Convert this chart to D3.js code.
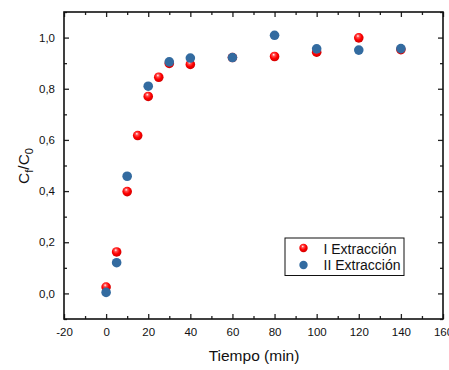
<!DOCTYPE html>
<html><head><meta charset="utf-8">
<script src="https://cdn.jsdelivr.net/npm/d3@7"></script>
<style>body{margin:0;background:#fff}svg{display:block;font-family:"Liberation Sans",Arial,sans-serif}</style>
</head><body><svg id="c" width="449" height="370"></svg>
<script>
const seriesNames = ["I Extracción", "II Extracción"];
const timeI = [0, 5, 10, 15, 20, 25, 30, 40, 60, 80, 100, 120, 140];
const valuesI = [0.025, 0.162, 0.398, 0.617, 0.770, 0.845, 0.899, 0.895, 0.922, 0.926, 0.943, 0.999, 0.953];
const timeII = [0, 5, 10, 20, 30, 40, 60, 80, 100, 120, 140];
const valuesII = [0.004, 0.120, 0.458, 0.810, 0.905, 0.920, 0.922, 1.009, 0.956, 0.951, 0.957];
const xTicks = [-20, 0, 20, 40, 60, 80, 100, 120, 140, 160];
const yTicks = [0.0, 0.2, 0.4, 0.6, 0.8, 1.0];
const xMinorTicks = [-10, 10, 30, 50, 70, 90, 110, 130, 150];
const yMinorTicks = [-0.1, 0.1, 0.3, 0.5, 0.7, 0.9, 1.1];

const svg = d3.select("#c");
const L = 64, R = 443, T = 12, B = 319;
const x = d3.scaleLinear().domain([-20, 160]).range([L, R]);
const y = d3.scaleLinear().domain([-0.1, 1.1]).range([B, T]);
const fmt = d => d3.format(".1f")(d).replace(".", ",");

const defs = svg.append("defs");
const g = defs.append("radialGradient").attr("id", "rg").attr("cx", "0.45").attr("cy", "0.4").attr("r", "0.6").attr("fx", "0.4").attr("fy", "0.3");
g.append("stop").attr("offset", "0").attr("stop-color", "#ffffff");
g.append("stop").attr("offset", "0.25").attr("stop-color", "#ff5050");
g.append("stop").attr("offset", "0.6").attr("stop-color", "#ff0000");
g.append("stop").attr("offset", "1").attr("stop-color", "#d00000");

// major ticks (inward, mirrored)
svg.append("g").attr("transform", `translate(0,${B})`)
  .call(d3.axisBottom(x).tickValues(xTicks).tickSize(-5).tickPadding(9).tickFormat(d => d));
svg.append("g").attr("transform", `translate(0,${T})`)
  .call(d3.axisTop(x).tickValues(xTicks).tickSize(-5).tickFormat(""));
svg.append("g").attr("transform", `translate(${L},0)`)
  .call(d3.axisLeft(y).tickValues(yTicks).tickSize(-5).tickPadding(9).tickFormat(fmt));
svg.append("g").attr("transform", `translate(${R},0)`)
  .call(d3.axisRight(y).tickValues(yTicks).tickSize(-5).tickFormat(""));
// minor ticks
svg.append("g").attr("transform", `translate(0,${B})`).call(d3.axisBottom(x).tickValues(xMinorTicks).tickSize(-3).tickFormat(""));
svg.append("g").attr("transform", `translate(0,${T})`).call(d3.axisTop(x).tickValues(xMinorTicks).tickSize(-3).tickFormat(""));
svg.append("g").attr("transform", `translate(${L},0)`).call(d3.axisLeft(y).tickValues(yMinorTicks).tickSize(-3).tickFormat(""));
svg.append("g").attr("transform", `translate(${R},0)`).call(d3.axisRight(y).tickValues(yMinorTicks).tickSize(-3).tickFormat(""));

svg.selectAll(".domain").remove();
svg.selectAll(".tick line").attr("stroke", "#222").attr("stroke-width", 1.3);
svg.selectAll(".tick text").attr("font-size", 11.5).attr("fill", "#111").attr("font-family", '"Liberation Sans",Arial,sans-serif');
svg.append("rect").attr("x", L).attr("y", T).attr("width", R - L).attr("height", B - T)
  .attr("fill", "none").attr("stroke", "#111").attr("stroke-width", 1.6);

// data (series II drawn on top, as in reference)
svg.append("g").selectAll("circle").data(timeI.map((t, i) => [t, valuesI[i]])).join("circle")
  .attr("cx", d => x(d[0])).attr("cy", d => y(d[1])).attr("r", 4.8).attr("fill", "url(#rg)");
svg.append("g").selectAll("circle").data(timeII.map((t, i) => [t, valuesII[i]])).join("circle")
  .attr("cx", d => x(d[0])).attr("cy", d => y(d[1])).attr("r", 4.8).attr("fill", "#336ba0");

// legend
const lg = svg.append("g").attr("transform", "translate(285,238)");
lg.append("rect").attr("width", 119).attr("height", 37.5).attr("fill", "#fff").attr("stroke", "#111").attr("stroke-width", 1);
lg.append("circle").attr("cx", 18.5).attr("cy", 10).attr("r", 4.2).attr("fill", "url(#rg)");
lg.append("circle").attr("cx", 18.5).attr("cy", 27).attr("r", 4.2).attr("fill", "#336ba0");
lg.append("text").attr("x", 38.5).attr("y", 15.7).attr("font-size", 14).attr("fill", "#111").text(seriesNames[0]);
lg.append("text").attr("x", 38.5).attr("y", 32.3).attr("font-size", 14).attr("fill", "#111").text(seriesNames[1]);

// axis titles
svg.append("text").attr("x", 254).attr("y", 361).attr("text-anchor", "middle").attr("font-size", 15.5).attr("fill", "#111").text("Tiempo (min)");
const yt = svg.append("text").attr("transform", "translate(29,166) rotate(-90)").attr("text-anchor", "middle").attr("font-size", 15.5).attr("fill", "#111");
yt.append("tspan").text("C");
yt.append("tspan").attr("font-size", 11).attr("dy", 4).text("f");
yt.append("tspan").attr("dy", -4).text("/C");
yt.append("tspan").attr("font-size", 11).attr("dy", 4).text("0");
</script></body></html>
